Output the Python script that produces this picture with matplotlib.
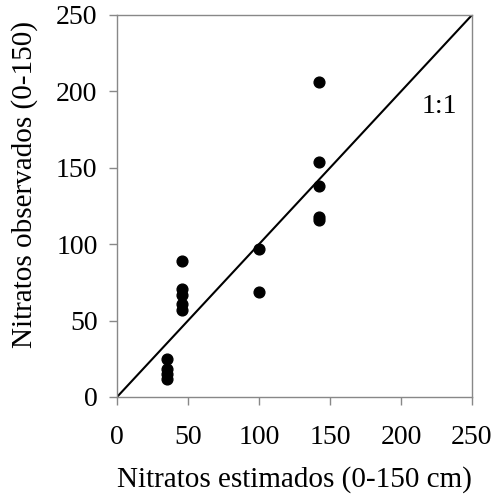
import matplotlib
matplotlib.use("Agg")
import matplotlib.pyplot as plt

est = [35, 35, 35, 35, 46, 46, 46, 46, 46, 100, 100, 142, 142, 142, 142, 142]
obs = [25, 18, 15, 12, 89, 71, 67, 61, 57, 97, 69, 206, 154, 138, 118, 116]
ticks = [0, 50, 100, 150, 200, 250]

plt.rcParams['font.family'] = ['Liberation Serif']
fig = plt.figure(figsize=(4.97, 4.97), dpi=100)
ax = fig.add_axes([117/497, 100/497, 355/497, 382/497])
ax.plot([0, 250], [0, 250], color='black', lw=1.5, zorder=2)
ax.scatter(est, obs, s=60, color='black', zorder=3, clip_on=False)
ax.set_xlim(0, 250)
ax.set_ylim(0, 250)
ax.set_xticks(ticks)
ax.set_yticks(ticks)
ax.tick_params(labelsize=20, color='#888888', length=6, width=1)
ax.tick_params(axis='x', pad=14)
ax.tick_params(axis='y', pad=8)
for s in ax.spines.values():
    s.set_color('#888888')
    s.set_linewidth(1)
ax.set_xlabel('Nitratos estimados (0-150 cm)', fontsize=21)
ax.set_ylabel('Nitratos observados (0-150)', fontsize=21)
ax.xaxis.set_label_coords(0.5, -0.18, transform=ax.transAxes)
ax.yaxis.set_label_coords(-0.222, 0.555, transform=ax.transAxes)
ax.text(227, 190, '1:1', fontsize=20, ha='center', va='center')
fig.savefig('out.png', dpi=100)
